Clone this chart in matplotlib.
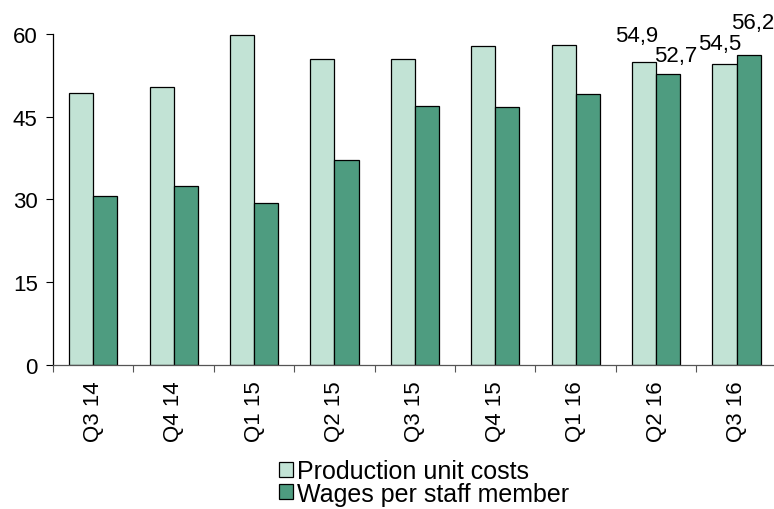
import numpy as np
import matplotlib.pyplot as plt

quarters = ['Q3 14', 'Q4 14', 'Q1 15', 'Q2 15', 'Q3 15', 'Q4 15', 'Q1 16', 'Q2 16', 'Q3 16']
unit_costs = [49.3, 50.3, 59.8, 55.4, 55.5, 57.8, 58.0, 54.9, 54.5]
wages = [30.6, 32.4, 29.4, 37.1, 46.9, 46.7, 49.2, 52.7, 56.2]

plt.rcParams['font.family'] = ['Liberation Sans', 'DejaVu Sans']

light = '#c2e3d5'
dark = '#4e9c80'

fig = plt.figure(figsize=(7.74, 5.10), dpi=100)
ax = fig.add_axes([0.0685, 0.2824, 0.935, 0.649])

x = np.arange(len(quarters))
w = 0.3
b1 = ax.bar(x - w / 2, unit_costs, w, color=light, edgecolor='black', linewidth=0.9,
            label='Production unit costs')
b2 = ax.bar(x + w / 2, wages, w, color=dark, edgecolor='black', linewidth=0.9,
            label='Wages per staff member')

ax.set_xlim(-0.5, len(quarters) - 0.5)
ax.set_ylim(0, 60)
ax.set_yticks([0, 15, 30, 45, 60])
ax.tick_params(axis='y', labelsize=16, length=5, width=0.8, pad=6)

ax.set_xticks(x)
ax.set_xticklabels(quarters, rotation=90, fontsize=16)
ax.tick_params(axis='x', which='major', length=0, pad=11)
ax.set_xticks(np.arange(len(quarters) + 1) - 0.5, minor=True)
ax.tick_params(axis='x', which='minor', length=5, width=0.8, color='#555555')

for s in ['top', 'right']:
    ax.spines[s].set_visible(False)
ax.spines['left'].set_linewidth(0.9)
ax.spines['bottom'].set_linewidth(0.9)
ax.spines['bottom'].set_color('#555555')

# value labels on the last two quarters
offsets1 = {7: (-7, 16), 8: (-5, 10)}
offsets2 = {7: (8, 8), 8: (4, 22)}
for i, (dx, dy) in offsets1.items():
    ax.annotate(f'{unit_costs[i]:.1f}'.replace('.', ','), (x[i] - w / 2, unit_costs[i]),
                xytext=(dx, dy), textcoords='offset pixels', ha='center', va='bottom',
                fontsize=16, annotation_clip=False)
for i, (dx, dy) in offsets2.items():
    ax.annotate(f'{wages[i]:.1f}'.replace('.', ','), (x[i] + w / 2, wages[i]),
                xytext=(dx, dy), textcoords='offset pixels', ha='center', va='bottom',
                fontsize=16, annotation_clip=False)

fig.legend(handles=[b1, b2], loc='upper center', bbox_to_anchor=(0.548, 0.098),
           ncol=1, frameon=False, fontsize=18, handlelength=0.55, handleheight=0.55,
           handletextpad=0.15, labelspacing=-0.05, borderpad=0, borderaxespad=0)

fig.savefig('out.png', dpi=100)
plt.close(fig)
